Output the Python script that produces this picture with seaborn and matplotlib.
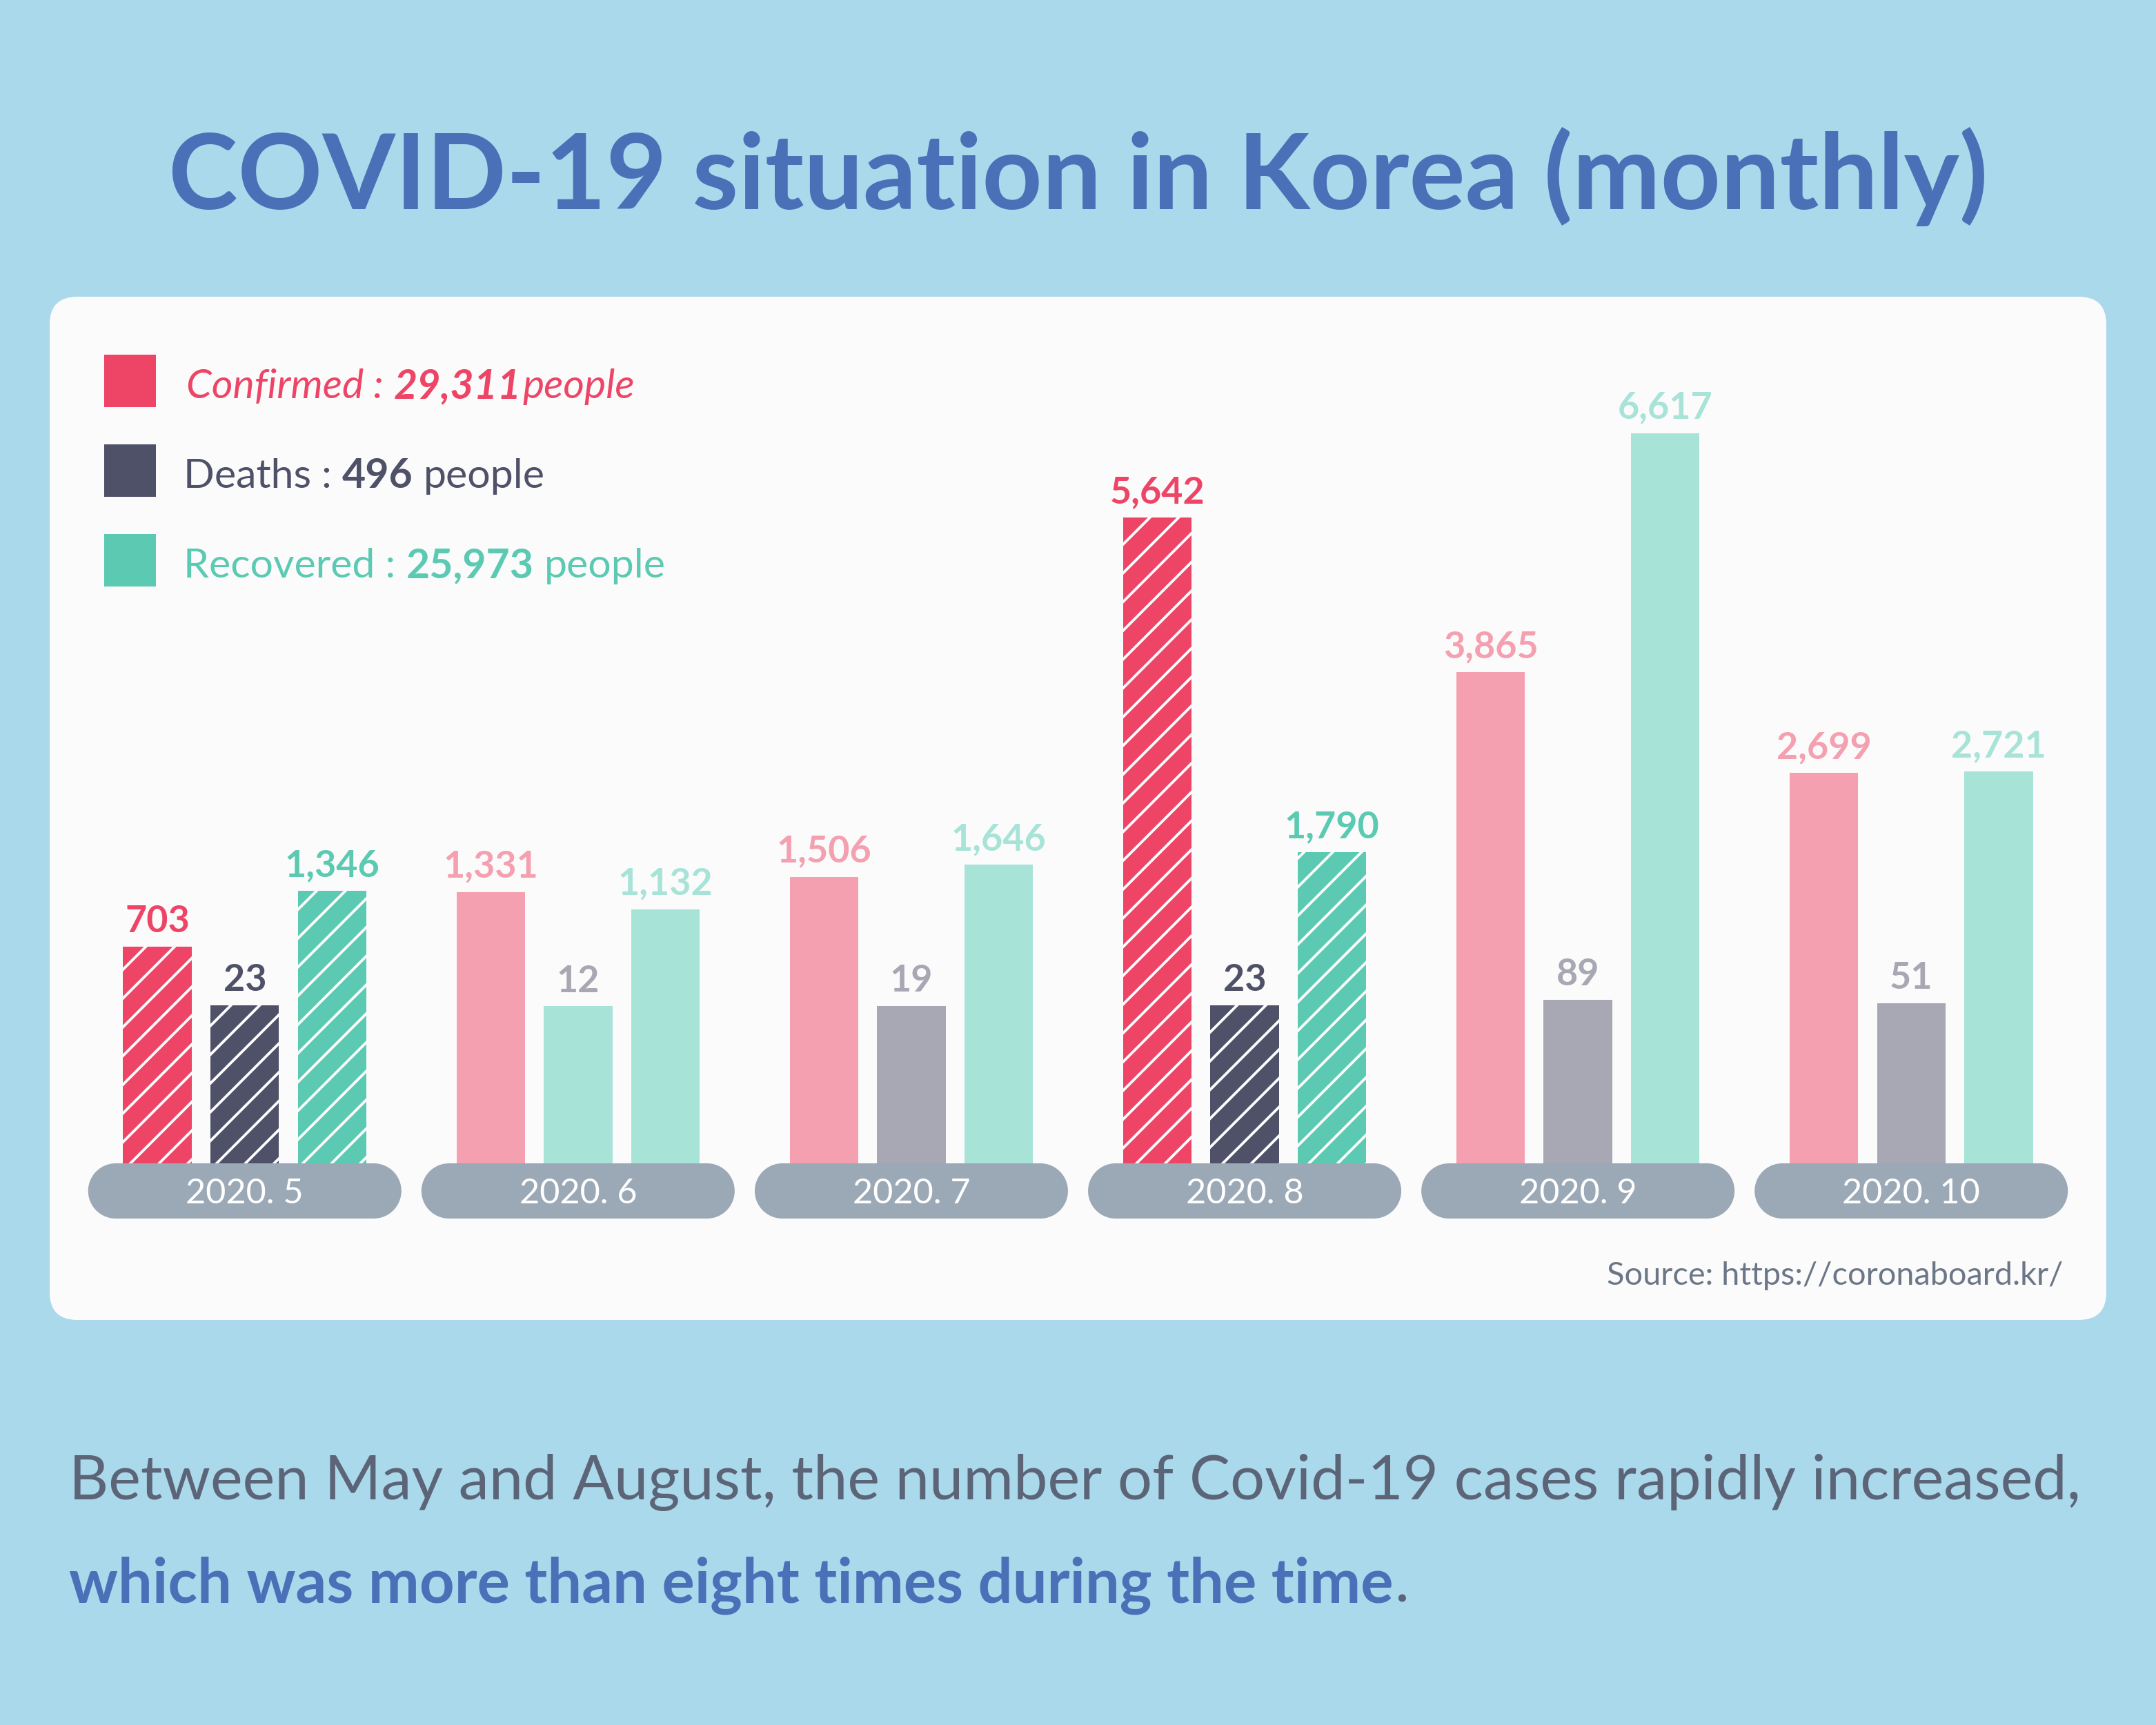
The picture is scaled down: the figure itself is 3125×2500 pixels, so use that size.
import numpy as np
import pandas as pd
import matplotlib
matplotlib.use("Agg")
import matplotlib.pyplot as plt
from matplotlib.patches import FancyBboxPatch, Rectangle, Circle
from matplotlib.transforms import IdentityTransform
import seaborn as sns

months = ["2020. 5", "2020. 6", "2020. 7", "2020. 8", "2020. 9", "2020. 10"]
confirmed = [703, 1331, 1506, 5642, 3865, 2699]
deaths = [23, 12, 19, 23, 89, 51]
recovered = [1346, 1132, 1646, 1790, 6617, 2721]
series_names = ["Confirmed", "Deaths", "Recovered"]
highlight = ["2020. 5", "2020. 8"]
total_confirmed = "29,311"
total_deaths = "496"
total_recovered = "25,973"

W, H, DPI = 3125, 2500, 250
PX = IdentityTransform()

BG = "#aad9eb"
TITLE_BLUE = "#4a71b8"
TEXT_GREY = "#5c6577"
PILL = "#9ba8b6"
strong = {"Confirmed": "#ee4567", "Deaths": "#4e5168", "Recovered": "#5ccab3"}
pale = {"Confirmed": "#f5a0b0", "Deaths": "#a8a8b4", "Recovered": "#a8e3d8"}
# the June deaths bar is painted in the recovered tint in the original
odd_fill = {("2020. 6", "Deaths"): pale["Recovered"]}

df = pd.DataFrame({
    "month": months * 3,
    "series": np.repeat(series_names, len(months)),
    "value": confirmed + deaths + recovered,
})

sns.set_theme(style="white")
plt.rcParams["font.family"] = ["Lato", "DejaVu Sans"]
plt.rcParams["hatch.linewidth"] = 1.1

fig = plt.figure(figsize=(W / DPI, H / DPI), dpi=DPI, facecolor=BG)
renderer = fig.canvas.get_renderer()


def ypx(y):
    # image rows (from top) to matplotlib display coords
    return H - y


# white card
card = FancyBboxPatch((72, ypx(1913)), 2981, 1483, boxstyle="round,pad=0,rounding_size=40",
                      transform=PX, fc="#fbfbfb", ec="none", zorder=-1)
fig.add_artist(card)

# bar axes: value 0 sits ~226 px above the pill, bars run down behind it
y_bottom, y_top = -1797, 8188
ax = fig.add_axes([113.2 / W, 1 - 1686 / H, 2898.6 / W, (1686 - 430) / H])
ax.set_facecolor("none")
ax.set_zorder(1)
sns.barplot(data=df, x="month", y="value", hue="series", order=months, hue_order=series_names,
            palette=strong, width=0.786, gap=0.214, saturation=1, errorbar=None,
            legend=False, ax=ax)
ax.set_xlim(-0.5, len(months) - 0.5)
ax.set_ylim(y_bottom, y_top)
ax.axis("off")

values = {"Confirmed": confirmed, "Deaths": deaths, "Recovered": recovered}
for j, s in enumerate(series_names):
    for i, bar in enumerate(ax.containers[j]):
        m = months[i]
        v = values[s][i]
        bar.set_y(y_bottom)
        bar.set_height(v - y_bottom)
        if m in highlight:
            bar.set_facecolor(strong[s])
            bar.set_edgecolor("white")
            bar.set_linewidth(0)
            bar.set_hatch("//")
            lab_col = strong[s]
        else:
            bar.set_facecolor(odd_fill.get((m, s), pale[s]))
            bar.set_edgecolor("none")
            bar.set_linewidth(0)
            lab_col = pale[s]
        cx = bar.get_x() + bar.get_width() / 2
        ax.annotate(f"{v:,}", (cx, v), xytext=(0, 6), textcoords="offset points",
                    ha="center", va="baseline", fontsize=15.5, fontweight="bold", color=lab_col)

# month pills (rectangle with round caps)
pill_w, pill_h = 454, 80
for i, m in enumerate(months):
    cx = ax.transData.transform((i, 0))[0]
    y0 = ypx(1766)
    r = pill_h / 2
    parts = [
        Rectangle((cx - pill_w / 2 + r, y0), pill_w - 2 * r, pill_h),
        Circle((cx - pill_w / 2 + r, y0 + r), r),
        Circle((cx + pill_w / 2 - r, y0 + r), r),
    ]
    for p in parts:
        p.set_transform(PX)
        p.set_facecolor(PILL)
        p.set_edgecolor("none")
        p.set_zorder(2)
        fig.add_artist(p)
    fig.text(cx, ypx(1744), m, transform=PX, ha="center", va="baseline",
             fontsize=14.5, color="white", zorder=3)

# legend
def space_width(size, weight="normal", style="normal"):
    a = fig.text(0, 0, "a a", fontsize=size, fontweight=weight, fontstyle=style)
    b = fig.text(0, 0, "aa", fontsize=size, fontweight=weight, fontstyle=style)
    w = a.get_window_extent(renderer).width - b.get_window_extent(renderer).width
    a.remove()
    b.remove()
    return w


leg_size = 17
sp = space_width(leg_size)
legend_rows = [
    ("Confirmed", [("Confirmed :", "normal"), (total_confirmed, "bold"), ("people", "normal")],
     [sp, 2], "italic", 577),
    ("Deaths", [("Deaths :", "normal"), (total_deaths, "bold"), ("people", "normal")],
     [sp, sp], "normal", 707),
    ("Recovered", [("Recovered :", "normal"), (total_recovered, "bold"), ("people", "normal")],
     [sp, sp], "normal", 837),
]

for s, pieces, gaps, style, base in legend_rows:
    sq = Rectangle((151, ypx(base + 13)), 75, 76, transform=PX, fc=strong[s], ec="none", zorder=2)
    fig.add_artist(sq)
    x = 270 if style == "italic" else 266
    for k, (txt, wt) in enumerate(pieces):
        t = fig.text(x, ypx(base), txt, transform=PX, ha="left", va="baseline", fontsize=leg_size,
                     fontweight=wt, fontstyle=style, color=strong[s], zorder=3)
        x = t.get_window_extent(renderer).x1 + (gaps[k] if k < len(gaps) else 0)

# source
fig.text(2990, ypx(1862), "Source: https://coronaboard.kr/", transform=PX, ha="right",
         va="baseline", fontsize=13.5, color="#6b7686", zorder=3)

# title, fitted to the width it spans in the original
title = fig.text(W / 2, ypx(303), "COVID-19 situation in Korea (monthly)", transform=PX,
                 ha="center", va="baseline", fontsize=50, fontweight="bold", color=TITLE_BLUE)
tw = title.get_window_extent(renderer).width
title.set_fontsize(50 * 2640 / tw)

# caption
line1 = fig.text(100, ypx(2173), "Between May and August, the number of Covid-19 cases rapidly increased,",
                 transform=PX, ha="left", va="baseline", fontsize=25, color=TEXT_GREY)
lw = line1.get_window_extent(renderer).width
cap_size = 25 * 2920 / lw
line1.set_fontsize(cap_size)
line2 = fig.text(100, ypx(2322), "which was more than eight times during the time", transform=PX,
                 ha="left", va="baseline", fontsize=cap_size, fontweight="bold", color=TITLE_BLUE)
x_end = line2.get_window_extent(renderer).x1
fig.text(x_end + 2, ypx(2322), ".", transform=PX, ha="left", va="baseline",
         fontsize=cap_size, color=TEXT_GREY)

fig.savefig("out.png", dpi=DPI, facecolor=BG)
